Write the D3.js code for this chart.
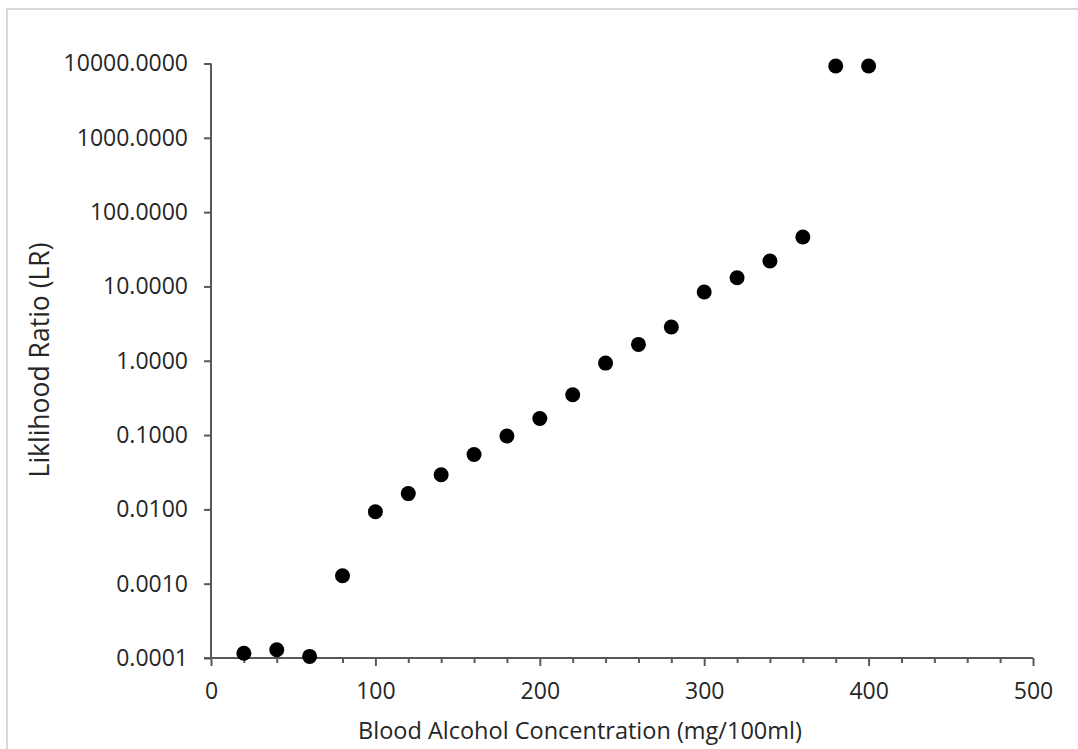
<!DOCTYPE html>
<html>
<head>
<meta charset="utf-8">
<script src="https://cdn.jsdelivr.net/npm/d3@7"></script>
<style>
  html, body { margin: 0; padding: 0; background: #fff; }
  svg { display: block; }
  text { font-family: "Open Sans", Lato, sans-serif; fill: #262626; }
</style>
</head>
<body>
<svg id="chart" width="1078" height="749"></svg>
<script>
// Data
const concentration = [20, 40, 60, 80, 100, 120, 140, 160, 180, 200, 220, 240, 260, 280, 300, 320, 340, 360, 380, 400];
const likelihoodRatio = [0.000116, 0.000129, 0.000105, 0.00128, 0.0093, 0.0163, 0.0292, 0.0548, 0.097, 0.167, 0.349, 0.93, 1.66, 2.84, 8.4, 13.1, 22.0, 46.2, 9250, 9250];
const xTickValues = [0, 100, 200, 300, 400, 500];
const xMinorTickValues = [20, 40, 60, 80, 120, 140, 160, 180, 220, 240, 260, 280, 320, 340, 360, 380, 420, 440, 460, 480];
const yTickValues = [0.0001, 0.001, 0.01, 0.1, 1, 10, 100, 1000, 10000];
const xTitle = "Blood Alcohol Concentration (mg/100ml)";
const yTitle = "Liklihood Ratio (LR)";

const svg = d3.select("#chart");
const axisColor = "#595959";

// outer frame
svg.append("rect")
  .attr("x", 7).attr("y", 9)
  .attr("width", 1200).attr("height", 900)
  .attr("fill", "none").attr("stroke", "#d9d9d9").attr("stroke-width", 2);

const plot = { left: 211, right: 1033, top: 63.5, bottom: 658 };

const x = d3.scaleLinear().domain([0, 500]).range([plot.left, plot.right]);
const y = d3.scaleLog().domain([0.0001, 10000]).range([plot.bottom, plot.top]);

// X axis (major)
const gx = svg.append("g")
  .attr("transform", `translate(0,${plot.bottom})`)
  .call(d3.axisBottom(x).tickValues(xTickValues).tickFormat(d3.format("d")).tickSizeInner(8).tickSizeOuter(0).tickPadding(28));
gx.select(".domain").remove();
gx.selectAll(".tick line").attr("stroke", axisColor).attr("stroke-width", 2);
gx.selectAll(".tick text").attr("font-size", 23).attr("dy", "0.2em");

// X minor ticks
const gxm = svg.append("g")
  .attr("transform", `translate(0,${plot.bottom})`)
  .call(d3.axisBottom(x).tickValues(xMinorTickValues).tickFormat("").tickSizeInner(5).tickSizeOuter(0));
gxm.select(".domain").remove();
gxm.selectAll(".tick line").attr("stroke", axisColor).attr("stroke-width", 2);

// Y axis
const gy = svg.append("g")
  .attr("transform", `translate(${plot.left},0)`)
  .call(d3.axisLeft(y).tickValues(yTickValues).tickFormat(d3.format(".4f")).tickSizeInner(7).tickSizeOuter(0).tickPadding(16));
gy.select(".domain").remove();
gy.selectAll(".tick line").attr("stroke", axisColor).attr("stroke-width", 2);
gy.selectAll(".tick text").attr("font-size", 23);

// axis lines
svg.append("line")
  .attr("x1", plot.left - 7).attr("x2", plot.right)
  .attr("y1", plot.bottom).attr("y2", plot.bottom)
  .attr("stroke", axisColor).attr("stroke-width", 2);
svg.append("line")
  .attr("x1", plot.left).attr("x2", plot.left)
  .attr("y1", plot.top).attr("y2", plot.bottom)
  .attr("stroke", axisColor).attr("stroke-width", 2);

// points
svg.append("g").selectAll("circle")
  .data(concentration.map((c, i) => ({ c, v: likelihoodRatio[i] })))
  .join("circle")
  .attr("cx", d => x(d.c))
  .attr("cy", d => y(d.v))
  .attr("r", 7.5)
  .attr("fill", "#000");

// titles
svg.append("text")
  .attr("x", 580).attr("y", 739)
  .attr("text-anchor", "middle")
  .attr("font-size", 23.5)
  .text(xTitle);

svg.append("text")
  .attr("transform", `translate(49,360) rotate(-90)`)
  .attr("text-anchor", "middle")
  .attr("font-size", 26.5)
  .text(yTitle);
</script>
</body>
</html>
